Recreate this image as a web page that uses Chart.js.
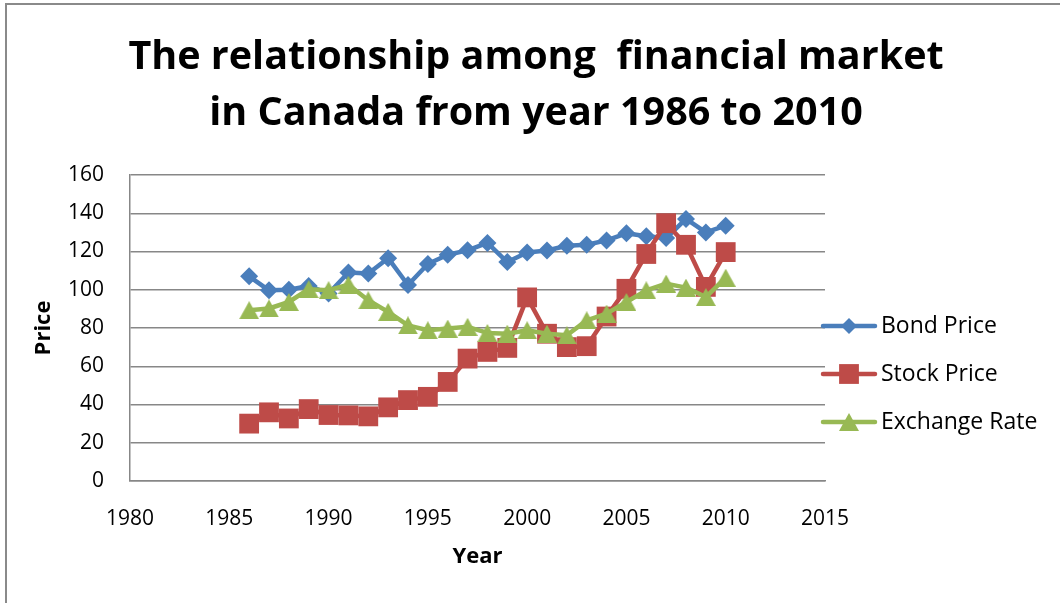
<!DOCTYPE html>
<html>
<head>
<meta charset="utf-8">
<title>Financial market in Canada 1986-2010</title>
<script src="https://cdn.jsdelivr.net/npm/chart.js@4.4.1/dist/chart.umd.min.js"></script>
<style>
  html, body { margin: 0; padding: 0; background: #fff; }
  #wrap { position: relative; width: 1060px; height: 603px; overflow: hidden; }
  #wrap canvas { position: absolute; left: 0; top: 0; }
  #frame {
    position: absolute; left: 5px; top: 3px; right: -10px; bottom: -10px;
    border-left: 2px solid #8a8a8a; border-top: 2px solid #8a8a8a;
    pointer-events: none;
  }
</style>
</head>
<body>
<div id="wrap">
  <canvas id="chart" width="1060" height="603"></canvas>
  <div id="frame"></div>
</div>
<script>
const titleLines = ['The relationship among  financial market', 'in Canada from year 1986 to 2010'];
const seriesNames = ['Bond Price', 'Stock Price', 'Exchange Rate'];

const years = [1986, 1987, 1988, 1989, 1990, 1991, 1992, 1993, 1994, 1995, 1996, 1997, 1998,
               1999, 2000, 2001, 2002, 2003, 2004, 2005, 2006, 2007, 2008, 2009, 2010];
const bondPrice = [107, 99.7, 100, 102, 98, 109, 108.5, 116.5, 102.5, 113.5, 118.3, 120.6, 124.5,
                   114.5, 119.5, 120.5, 123, 123.5, 125.8, 129.5, 128, 127, 137, 130, 133.5];
const stockPrice = [30, 35.9, 32.7, 37.6, 34.5, 34.3, 33.8, 38.5, 42.3, 44, 51.8, 64, 67.5,
                    69.6, 96, 77, 70, 70.5, 86, 100.5, 118.7, 134.8, 123.5, 101.5, 119.7];
const exchangeRate = [89.3, 90.2, 93.6, 100.3, 99.8, 102.6, 94.5, 88.4, 81.4, 78.8, 79.7, 80.6, 77.4,
                      77, 78.8, 77, 76.2, 84, 87.5, 93.6, 99.7, 103.2, 101.1, 96.2, 106.3];

const xTicks = [1980, 1985, 1990, 1995, 2000, 2005, 2010, 2015];
const yTicks = [0, 20, 40, 60, 80, 100, 120, 140, 160];

const FONT = '"Open Sans", "Noto Sans", sans-serif';
const GRID = '#878787';
const BLUE = '#4A7EBB';
const RED = '#BE4B48';
const GREEN = '#98B954';

// triangle marker centred on its bounding box rather than its circumcentre
function triangleMarker(color, w, h) {
  const c = document.createElement('canvas');
  c.width = w;
  c.height = h;
  const g = c.getContext('2d');
  g.fillStyle = color;
  g.beginPath();
  g.moveTo(w / 2, 0);
  g.lineTo(w, h);
  g.lineTo(0, h);
  g.closePath();
  g.fill();
  return c;
}

function series(label, values, color, pointStyle, radius, order) {
  return {
    label: label,
    data: years.map((yr, i) => ({ x: yr, y: values[i] })),
    borderColor: color,
    backgroundColor: color,
    borderWidth: 4.5,
    borderJoinStyle: 'round',
    borderCapStyle: 'round',
    tension: 0,
    pointStyle: pointStyle,
    pointRadius: radius,
    pointHoverRadius: radius,
    pointBorderWidth: 0,
    pointBackgroundColor: color,
    order: order
  };
}

// legend drawn to the right of the plot: line with the marker in the middle
function drawLegend(chart, box) {
  const ctx = chart.ctx;
  ctx.save();
  chart.data.datasets.forEach((ds, i) => {
    const y = box.top + 151 + i * 48;
    const x0 = box.left - 4;
    const x1 = box.left + 52;
    const cx = (x0 + x1) / 2;
    ctx.strokeStyle = ds.borderColor;
    ctx.lineWidth = 4.5;
    ctx.lineCap = 'round';
    ctx.beginPath();
    ctx.moveTo(x0 + 2, y);
    ctx.lineTo(x1 - 2, y);
    ctx.stroke();
    ctx.fillStyle = ds.backgroundColor;
    const r = ds.pointStyle === 'rectRot' ? 8 : ds.pointRadius;
    Chart.helpers.drawPoint(ctx, { pointStyle: ds.pointStyle, radius: r, rotation: 0, borderWidth: 0 }, cx, y);
    ctx.fillStyle = '#000';
    ctx.font = '23px ' + FONT;
    ctx.textBaseline = 'middle';
    ctx.textAlign = 'left';
    ctx.fillText(ds.label, x1 + 4, y);
  });
  ctx.restore();
}

const sideLegend = {
  id: 'sideLegend',
  beforeInit(chart) {
    const box = {
      position: 'right',
      weight: 10,
      fullSize: false,
      options: {},
      width: 0,
      height: 0,
      isHorizontal() { return false; },
      update(maxWidth, maxHeight) {
        this.width = 235;
        this.height = maxHeight;
      },
      draw() { drawLegend(chart, this); }
    };
    Chart.layouts.addBox(chart, box);
  }
};

const tickFont = { family: FONT, size: 21 };
const axisTitleFont = { family: FONT, size: 22, weight: 'bold' };

new Chart(document.getElementById('chart'), {
  type: 'line',
  data: {
    datasets: [
      series(seriesNames[0], bondPrice, BLUE, 'rectRot', 9, 3),
      series(seriesNames[1], stockPrice, RED, 'rect', 14, 2),
      series(seriesNames[2], exchangeRate, GREEN, triangleMarker(GREEN, 20, 18), 10, 1)
    ]
  },
  options: {
    responsive: false,
    animation: false,
    devicePixelRatio: 1,
    events: [],
    layout: { padding: { left: 12, top: 0, right: 0, bottom: 0 } },
    scales: {
      x: {
        type: 'linear',
        min: xTicks[0],
        max: xTicks[xTicks.length - 1],
        afterBuildTicks(scale) { scale.ticks = xTicks.map(v => ({ value: v })); },
        afterFit(scale) { scale.height = 122; },
        ticks: { color: '#000', font: tickFont, padding: 25, maxRotation: 0, callback: v => String(v) },
        grid: { display: false, drawTicks: false },
        border: { display: true, color: GRID, width: 1.5 },
        title: { display: true, text: 'Year', color: '#000', font: axisTitleFont, padding: { top: 0, bottom: 33 } }
      },
      y: {
        type: 'linear',
        min: yTicks[0],
        max: yTicks[yTicks.length - 1],
        afterBuildTicks(scale) { scale.ticks = yTicks.map(v => ({ value: v })); },
        afterFit(scale) { scale.width = 118; },
        ticks: { color: '#000', font: tickFont, padding: 26, callback: v => String(v) },
        grid: { color: GRID, lineWidth: 1.5, drawTicks: false },
        border: { display: true, color: GRID, width: 1.5 },
        title: { display: true, text: 'Price', color: '#000', font: axisTitleFont, padding: { top: 19, bottom: 0 } }
      }
    },
    plugins: {
      legend: { display: false },
      tooltip: { enabled: false },
      title: {
        display: true,
        text: titleLines,
        color: '#000',
        font: { family: FONT, size: 39.5, weight: 'bold', lineHeight: '56px' },
        padding: { top: 30, bottom: 33 }
      }
    }
  },
  plugins: [sideLegend]
});
</script>
</body>
</html>
